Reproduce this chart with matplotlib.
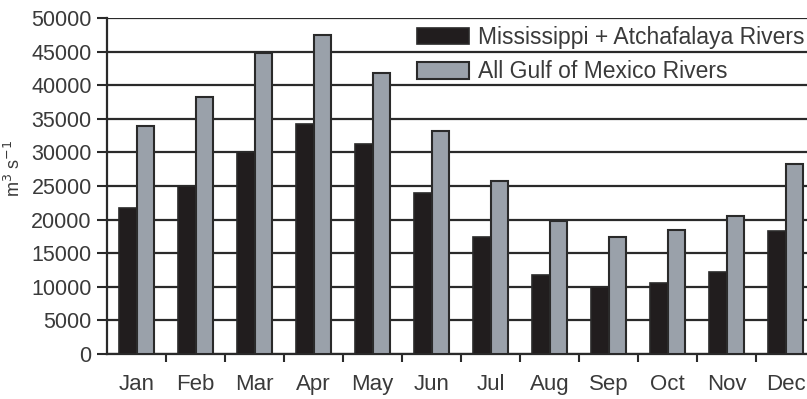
import matplotlib
matplotlib.use("Agg")
import matplotlib.pyplot as plt
import numpy as np

months = ["Jan", "Feb", "Mar", "Apr", "May", "Jun", "Jul", "Aug", "Sep", "Oct", "Nov", "Dec"]
miss_atch = [21700, 25000, 30000, 34200, 31300, 24000, 17400, 11800, 10000, 10600, 12200, 18300]
all_gulf = [34000, 38300, 44800, 47400, 41800, 33200, 25800, 19800, 17400, 18400, 20500, 28300]
yticks = [0, 5000, 10000, 15000, 20000, 25000, 30000, 35000, 40000, 45000, 50000]

plt.rcParams['font.family'] = ['Liberation Sans', 'DejaVu Sans']
W, H = 807, 399
fig = plt.figure(figsize=(W / 100, H / 100), dpi=100)
ax = fig.add_axes([107 / W, 1 - 354 / H, (815 - 107) / W, (354 - 18) / H])

x = np.arange(len(months))
bw = 0.3
txt = '#3a3a3a'
edge = '#2a2a2a'
ax.bar(x - 0.15, miss_atch, bw, color='#211d1e', edgecolor=edge, linewidth=1.2,
       label='Mississippi + Atchafalaya Rivers', zorder=3)
ax.bar(x + 0.15, all_gulf, bw, color='#9aa1aa', edgecolor=edge, linewidth=1.5,
       label='All Gulf of Mexico Rivers', zorder=3)

ax.set_xlim(-0.5, 11.5)
ax.set_ylim(0, 50000)
ax.set_yticks(yticks)
ax.set_yticklabels([str(v) for v in yticks], fontsize=15.5, color=txt)
ax.set_xticks(x)
ax.set_xticklabels(months, fontsize=16, color=txt)
ax.tick_params(axis='x', which='major', length=0, pad=14.5)
ax.set_xticks(np.arange(0.5, 11.5, 1), minor=True)
ax.tick_params(axis='x', which='minor', length=6, width=1.5, color=edge)
ax.tick_params(axis='y', length=7, width=1.5, color=edge, pad=4)
ax.grid(axis='y', color=edge, linewidth=1.6, zorder=0)
for s in ['top', 'right']:
    ax.spines[s].set_visible(False)
ax.spines['left'].set_color(edge)
ax.spines['left'].set_linewidth(1.6)
ax.spines['bottom'].set_color(edge)
ax.spines['bottom'].set_linewidth(1.6)

ax.set_ylabel('m$^{3}$ s$^{-1}$', fontsize=13, color=txt)
ax.yaxis.set_label_coords(-0.1172, 0.553)

leg = ax.legend(loc='upper left', bbox_to_anchor=(417 / W, 1 - 26 / H),
                bbox_transform=fig.transFigure, frameon=False, fontsize=16.5,
                handlelength=2.27, handleheight=0.75, handletextpad=0.4,
                labelspacing=0.5, borderpad=0, borderaxespad=0)
for t in leg.get_texts():
    t.set_color(txt)

fig.savefig('out.png', dpi=100)
